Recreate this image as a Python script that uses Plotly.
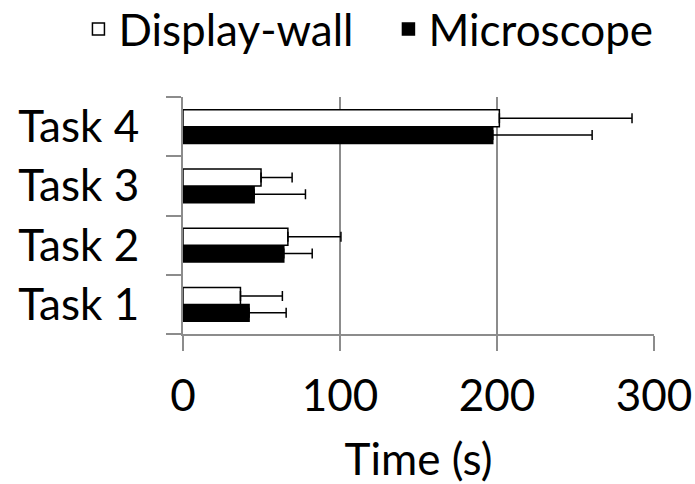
import plotly.graph_objects as go

tasks = ["Task 1", "Task 2", "Task 3", "Task 4"]
display_wall_mean = [36.6, 66.8, 49.7, 201.5]
display_wall_err = [26.7, 33.8, 19.8, 84.5]
microscope_mean = [42.1, 64.2, 45.3, 197.3]
microscope_err = [23.6, 18.1, 32.7, 63.3]

FONT = "Lato"
FONT_SIZE = 44
GRID = "#8c8c8c"

fig = go.Figure()

# Microscope is added first so that it sits below Display-wall in each group
fig.add_trace(go.Bar(
    name="Microscope",
    y=tasks, x=microscope_mean, orientation="h",
    marker=dict(color="black", line=dict(color="black", width=1.5)),
    error_x=dict(type="data", array=microscope_err, arrayminus=[0] * 4,
                 symmetric=False, color="black", thickness=1.5, width=5),
))
fig.add_trace(go.Bar(
    name="Display-wall",
    y=tasks, x=display_wall_mean, orientation="h",
    marker=dict(color="white", line=dict(color="black", width=1.5)),
    error_x=dict(type="data", array=display_wall_err, arrayminus=[0] * 4,
                 symmetric=False, color="black", thickness=1.5, width=5),
))

fig.update_layout(
    width=695, height=484,
    margin=dict(l=183, r=41, t=97, b=150, autoexpand=False),
    paper_bgcolor="white", plot_bgcolor="white",
    barmode="group", bargap=0.43, bargroupgap=0,
    font=dict(family=FONT, size=FONT_SIZE, color="black"),
    showlegend=True,
    legend=dict(orientation="h", traceorder="reversed",
                x=-0.222, xanchor="left", xref="paper",
                y=1.285, yanchor="middle", yref="paper",
                font=dict(size=FONT_SIZE), itemwidth=30,
                entrywidth=265, entrywidthmode="pixels",
                bgcolor="rgba(0,0,0,0)"),
    xaxis=dict(range=[0, 300], tickvals=[0, 100, 200, 300],
               showgrid=True, gridcolor=GRID, gridwidth=2,
               showline=True, linecolor=GRID, linewidth=2,
               ticks="outside", ticklen=15, tickcolor=GRID, tickwidth=2,
               ticklabelstandoff=7, zeroline=False,
               title=dict(text="Time (s)", standoff=42,
                          font=dict(size=FONT_SIZE))),
    yaxis=dict(categoryorder="array", categoryarray=tasks,
               tickmode="linear", tick0=0, dtick=1,
               showline=True, linecolor=GRID, linewidth=2,
               ticks="outside", ticklen=15, tickcolor=GRID, tickwidth=2,
               tickson="boundaries", showgrid=False,
               ticklabelstandoff=33, zeroline=False),
)

fig.write_html("out.html")
